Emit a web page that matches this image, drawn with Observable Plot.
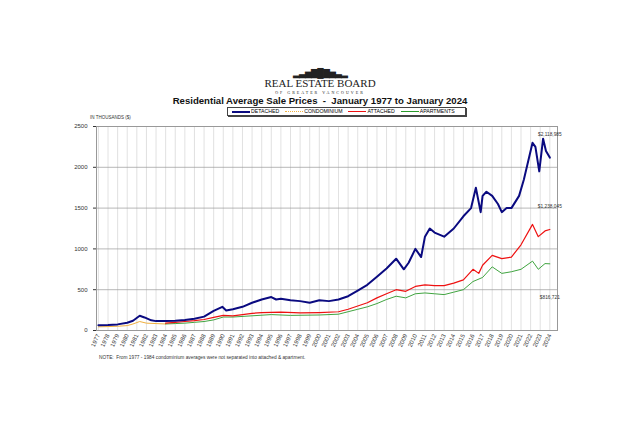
<!DOCTYPE html>
<html><head><meta charset="utf-8">
<script src="https://cdn.jsdelivr.net/npm/d3@7"></script>
<script src="https://cdn.jsdelivr.net/npm/@observablehq/plot@0.6"></script>
<style>
body{margin:0;width:640px;height:427px;background:#fff;font-family:Arial,"Liberation Sans",sans-serif;position:relative;overflow:hidden}
.abs{position:absolute}
#logo{left:0;width:640px;top:68px;text-align:center;font-family:"Liberation Serif",serif;font-size:11px;line-height:10px;color:#222}
#title{left:0;width:640px;top:95px;text-align:center;font-weight:bold;font-size:9.6px;color:#111}
#legend{left:227px;top:107px;border:1px solid #444;box-shadow:1px 1px 0 #444;font-size:5.2px;padding:0 4px;height:7px;line-height:7px;white-space:nowrap}
#legend span{display:inline-block;margin-right:6px}
#legend i{display:inline-block;width:18px;vertical-align:middle;margin-right:1px}
#units{left:90px;top:115px;font-size:4.5px;color:#333}
#note{left:99px;top:355px;font-size:4.8px;color:#333}
#vis{left:0;top:115px}
</style></head><body>
<div id="logo" class="abs"><div style="font-size:9px;letter-spacing:-1px">▂▃▅▇█▇▅▃▂</div><div>REAL ESTATE BOARD</div><div style="font-size:4px;letter-spacing:2px">OF GREATER VANCOUVER</div></div>
<div id="title" class="abs">Residential Average Sale Prices &nbsp;- &nbsp;January 1977 to January 2024</div>
<div id="legend" class="abs"><span><i style="border-top:2px solid #0a0a80"></i>DETACHED</span><span><i style="border-top:1px dotted #f0b040"></i>CONDOMINIUM</span><span><i style="border-top:1.5px solid #ee1111"></i>ATTACHED</span><span><i style="border-top:1px solid #2a9a2a"></i>APARTMENTS</span></div>
<div id="units" class="abs">IN THOUSANDS ($)</div>
<div id="note" class="abs">NOTE:&nbsp; From 1977 - 1984 condominium averages were not separated into attached &amp; apartment.</div>
<div id="vis" class="abs"></div>
<script>
const detachedT = [1977,1978,1979,1980,1980.6,1981.3,1981.8,1982.5,1983,1984,1985,1986,1987,1988,1989,1989.9,1990.3,1991,1992,1993,1994,1995,1995.5,1996,1997,1998,1999,2000,2001,2002,2003,2004,2005,2006,2007,2008,2008.8,2009.3,2010,2010.6,2011,2011.5,2012,2013,2014,2015,2015.8,2016.3,2016.8,2017,2017.4,2018,2018.6,2019,2019.5,2020,2020.8,2021.3,2022.2,2022.5,2022.9,2023.3,2023.6,2024];
const detachedV = [65,68,75,95,120,180,160,125,115,115,120,130,145,170,240,290,245,260,290,340,380,410,380,390,370,360,340,370,360,380,420,490,560,660,760,880,750,830,1000,900,1150,1250,1200,1150,1250,1400,1500,1750,1450,1650,1700,1650,1550,1450,1500,1500,1650,1850,2300,2250,1950,2350,2200,2119];
const condoT = [1977,1978,1979,1980,1980.6,1981.3,1982,1983,1984];
const condoV = [45,48,52,60,80,110,90,85,80];
const attachedT = [1984,1985,1986,1987,1988,1989,1990,1991,1992,1993,1994,1996,1998,2000,2002,2003,2004,2005,2006,2007,2008,2009,2010,2011,2012,2013,2014,2015,2016,2016.6,2017,2018,2019,2020,2021,2022.2,2022.8,2023.5,2024];
const attachedV = [90,100,110,120,135,160,185,180,195,210,220,225,215,220,230,260,300,340,400,450,500,480,540,560,550,550,580,620,750,700,800,920,880,900,1050,1300,1150,1220,1238];
const apartT = [1984,1985,1986,1987,1988,1989,1990,1991,1993,1995,1997,2000,2002,2003,2004,2005,2006,2007,2008,2009,2010,2011,2012,2013,2014,2015,2016,2017,2018,2019,2020,2021,2022.2,2022.8,2023.5,2024];
const apartV = [80,85,90,100,110,130,165,165,180,195,185,190,200,230,260,290,330,380,420,400,450,460,450,440,470,500,600,650,780,700,720,750,850,750,820,817];
const years = d3.range(1977, 2025);
const endLabels = [{t: 2024, v: 2400, s: "$2,118,985"}, {t: 2024, v: 1520, s: "$1,238,045"}, {t: 2024, v: 410, s: "$816,721"}];

const toRows = (ts, vs) => ts.map((t, i) => ({t, v: vs[i]}));
const chart = Plot.plot({
  width: 640, height: 260,
  marginLeft: 96, marginRight: 83, marginTop: 11, marginBottom: 45,
  style: {fontSize: "6px", fontFamily: "Arial, 'Liberation Sans', sans-serif", color: "#333"},
  x: {domain: [1976.8, 2024.8], ticks: years, tickFormat: d => String(d), tickRotate: -65, tickSize: 0, tickPadding: 4, label: null},
  y: {domain: [0, 2500], ticks: [0, 500, 1000, 1500, 2000, 2500], tickFormat: d => String(d), tickSize: 3, label: null},
  marks: [
    Plot.ruleX(years, {x: d => d, stroke: "#ccc", strokeWidth: 0.6}),
    Plot.ruleY([500, 1000, 1500, 2000, 2500], {stroke: "#999", strokeWidth: 0.7}),
    Plot.frame({stroke: "#999"}),
    Plot.line(toRows(condoT, condoV), {x: "t", y: "v", stroke: "#f0b040", strokeWidth: 1}),
    Plot.line(toRows(apartT, apartV), {x: "t", y: "v", stroke: "#2a9a2a", strokeWidth: 0.9}),
    Plot.line(toRows(attachedT, attachedV), {x: "t", y: "v", stroke: "#ee1111", strokeWidth: 1.2}),
    Plot.line(toRows(detachedT, detachedV), {x: "t", y: "v", stroke: "#0a0a80", strokeWidth: 2}),
    Plot.text(endLabels, {x: "t", y: "v", text: "s", fontSize: 4.8, fill: "#333", textAnchor: "middle"})
  ]
});
document.getElementById("vis").append(chart);
</script>
</body></html>
